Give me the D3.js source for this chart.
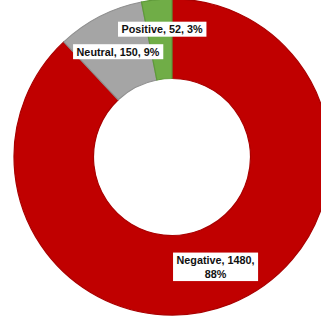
<!DOCTYPE html>
<html>
<head>
<meta charset="utf-8">
<script src="https://cdn.jsdelivr.net/npm/d3@7"></script>
<style>
  html, body { margin: 0; padding: 0; background: #fff; }
  svg { display: block; }
</style>
</head>
<body>
<div id="chart"></div>
<script>
const categories = ["Negative", "Neutral", "Positive"];
const values = [1480, 150, 52];
const percents = ["88%", "9%", "3%"];

const colors = ["#c00000", "#a5a5a5", "#70ad47"];
const edges = ["#a90000", "#8f8f8f", "#5f9a3a"];
// label lines per slice, and a nudge for the one that was dragged off its centroid
const labelLines = [
    [categories[0] + ", " + values[0] + ",", percents[0]],
    [categories[1] + ", " + values[1] + ", " + percents[1]],
    [categories[2] + ", " + values[2] + ", " + percents[2]]
];
const labelShift = [[0, 0], [0, 0], [1.5, -10]];

const width = 321;
const height = 320;
const cx = 172;
const cy = 157;
const outerR = 158;
const innerR = 78.5;

const svg = d3.select('#chart')
    .append('svg')
    .attr('width', width)
    .attr('height', height);

svg.append('rect')
    .attr('width', width)
    .attr('height', height)
    .attr('fill', '#fff');

const pie = d3.pie().sort(null).value(d => d);
const arcs = pie(values);

const arc = d3.arc()
    .innerRadius(innerR)
    .outerRadius(outerR);

const g = svg.append('g')
    .attr('transform', `translate(${cx}, ${cy})`);

g.selectAll('path')
    .data(arcs)
    .enter()
    .append('path')
    .attr('d', arc)
    .attr('fill', (d, i) => colors[i])
    .attr('stroke', (d, i) => edges[i])
    .attr('stroke-width', 1.2);

const lineH = 13.5;
arcs.forEach((d, i) => {
    const c = arc.centroid(d);
    const x = c[0] + labelShift[i][0];
    const y = c[1] + labelShift[i][1];
    const lab = g.append('g').attr('transform', `translate(${x}, ${y})`);
    const box = lab.append('rect').attr('fill', '#fff');
    const lines = labelLines[i];
    const txt = lab.append('text')
        .attr('text-anchor', 'middle')
        .attr('font-family', '"Liberation Sans Narrow", "Liberation Sans", sans-serif')
        .attr('font-weight', 'bold')
        .attr('font-size', 10.8)
        .attr('fill', '#111');
    lines.forEach((t, k) => {
        txt.append('tspan')
            .attr('x', 0)
            .attr('y', (k - (lines.length - 1) / 2) * lineH)
            .attr('dy', '0.36em')
            .text(t);
    });
    const bb = txt.node().getBBox();
    box.attr('x', bb.x - 3.5)
        .attr('y', bb.y - 1.5)
        .attr('width', bb.width + 7)
        .attr('height', bb.height + 3);
});
</script>
</body>
</html>
